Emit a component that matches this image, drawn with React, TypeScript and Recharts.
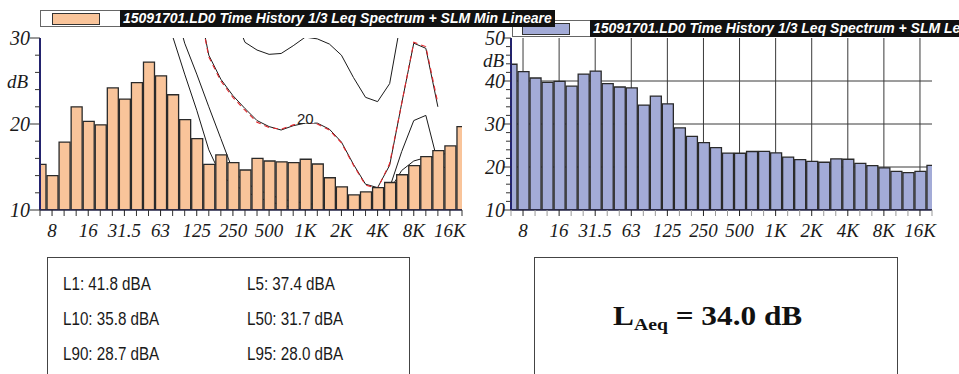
import React from 'react';
import { ComposedChart, Bar, Line, XAxis, YAxis, CartesianGrid, Label } from 'recharts';

// 1/3 octave bands, 6.3 Hz .. 20 kHz
const bands = ['6.3', '8', '10', '12.5', '16', '20', '25', '31.5', '40', '50', '63', '80', '100', '125', '160', '200', '250', '315', '400', '500', '630', '800', '1K', '1.25K', '1.6K', '2K', '2.5K', '3.15K', '4K', '5K', '6.3K', '8K', '10K', '12.5K', '16K', '20K'];
const bandLabels = ['8', '16', '31.5', '63', '125', '250', '500', '1K', '2K', '4K', '8K', '16K'];

// left panel: SLM Min spectrum (dB)
const minSpectrum = [15.3, 14.0, 17.9, 22.0, 20.3, 19.9, 24.2, 22.9, 24.8, 27.2, 25.6, 23.4, 20.5, 18.3, 15.3, 16.4, 15.5, 14.65, 16.0, 15.7, 15.6, 15.5, 15.9, 15.35, 13.75, 12.7, 11.75, 12.1, 12.6, 13.2, 14.1, 15.15, 16.2, 16.9, 17.45, 19.7];
// right panel: Leq spectrum (dB)
const leqSpectrum = [43.9, 42.2, 40.7, 39.7, 39.9, 38.8, 41.6, 42.3, 39.4, 38.6, 38.4, 34.4, 36.5, 34.7, 29.1, 27.1, 25.65, 24.5, 23.25, 23.2, 23.6, 23.65, 23.3, 22.3, 21.7, 21.3, 21.1, 21.9, 21.8, 20.85, 20.3, 19.8, 19.0, 18.7, 19.0, 20.4];

// contour curves on the left panel
const phon30 = [null, null, null, null, null, null, null, null, null, null, null, null, null, null, null, null, 33, 29.5, 28.6, 28.1, 28.2, 29.1, 30.1, 29.9, 29.3, 28.0, 25.4, 23.1, 22.6, 24.7, 32.5, null, null, null, null, null];
const phon20 = [null, null, null, null, null, null, null, null, null, null, null, null, null, 35, 28.0, 25.2, 23.3, 21.8, 20.4, 19.7, 19.3, 19.8, 20.1, 20.1, 19.4, 17.9, 15.3, 13.0, 12.6, 15.2, 22.4, 29.4, 28.8, 22.0, null, null];
const minLineare = [null, null, null, null, null, null, null, null, null, null, null, null, null, 35, 27.8, 25.0, 23.1, 21.6, 20.2, 19.6, 19.4, 19.9, 20.2, 20.0, 19.3, 17.8, 15.2, 12.9, 12.5, 15.4, 22.4, 29.5, 29.0, 22.4, null, null];
const phon10 = [null, null, null, null, null, null, null, null, null, null, 36, 30.2, 25.8, 21.6, 17.0, 14.0, 13.0, 12.2, 11.5, 11.0, 10.6, 10.3, 10.1, 10.0, 10.0, 10.0, 10.0, 10.2, 10.8, 12.6, 16.8, 20.4, 21.0, 15.5, 14.5, null];
const phon0 = [null, null, null, null, null, null, null, null, null, null, null, 34.5, 29.4, 25.8, 22.0, 18.3, 14.6, 13.2, 12.4, 11.8, 11.3, 11.0, 10.8, 10.6, 10.5, 10.5, 10.5, 10.7, 11.2, 12.3, 14.6, 15.7, 16.1, 16.2, 16.8, null];
const contourTag = '20';
const contourTagBand = '1K';

const yTicksLeft = [10, 12, 14, 16, 18, 20, 22, 24, 26, 28, 30];
const yLabelsLeft = [10, 20, 30];
const yTicksRight = [10, 12, 14, 16, 18, 20, 22, 24, 26, 28, 30, 32, 34, 36, 38, 40, 42, 44, 46, 48, 50];
const yLabelsRight = [10, 20, 30, 40, 50];
const gridRight = [20, 30, 40];

const legendLeft = '15091701.LD0 Time History 1/3 Leq Spectrum + SLM Min Lineare';
const legendRight = '15091701.LD0 Time History 1/3 Leq Spectrum + SLM Leq Lineare';
const stats = [
  ['L1: 41.8 dBA', 'L5: 37.4 dBA'],
  ['L10: 35.8 dBA', 'L50: 31.7 dBA'],
  ['L90: 28.7 dBA', 'L95: 28.0 dBA'],
];
const laeqValue = '34.0 dB';

const NAVY = '#23236e';
const SERIF = '"Liberation Serif", "Times New Roman", serif';
const SANS = '"Liberation Sans", Arial, sans-serif';

const bandIdx = bands.map((_, i) => i);
const gridX = bandIdx.filter((i) => bandLabels.includes(bands[i]));

const rows = bands.map((band, i) => ({
  idx: i,
  band,
  min: minSpectrum[i],
  leq: leqSpectrum[i],
  p30: phon30[i],
  p20: phon20[i],
  red: minLineare[i],
  p10: phon10[i],
  p0: phon0[i],
}));

const makeXTick = (minorColor: string) => (props: any) => {
  const { x, y, payload } = props;
  const band = bands[payload.value];
  const labelled = bandLabels.includes(band);
  return (
    <g>
      <line x1={x} x2={x} y1={y} y2={y + 6} stroke={labelled ? '#222' : minorColor} strokeWidth={1} />
      {labelled && (
        <text x={x} y={y + 27} textAnchor="middle" fontFamily={SERIF} fontStyle="italic" fontSize={19} fill="#1a1a1a">
          {band}
        </text>
      )}
    </g>
  );
};

const makeYTick = (labels: number[], majorLen: number, minorLen: number, gap: number) => (props: any) => {
  const { x, y, payload } = props;
  const major = labels.includes(payload.value);
  return (
    <g>
      <line x1={x - (major ? majorLen : minorLen)} x2={x} y1={y} y2={y} stroke="#333" strokeWidth={1} />
      {major && (
        <text x={x - gap} y={y} dy="0.35em" textAnchor="end" fontFamily={SERIF} fontStyle="italic" fontSize={20} fill="#1a1a1a">
          {payload.value}
        </text>
      )}
    </g>
  );
};

const dbLabel = (dx: number, dy: number) => (props: any) => {
  const vb = props.viewBox || {};
  return (
    <text x={(vb.x || 0) + dx} y={(vb.y || 0) + dy} fontFamily={SERIF} fontStyle="italic" fontSize={19} fill="#1a1a1a">
      dB
    </text>
  );
};

const tagIndex = bands.indexOf(contourTagBand);
const contourLabel = (p: any) => {
  if (p.index !== tagIndex) return null;
  const x = p.x ?? p.viewBox?.x;
  const y = p.y ?? p.viewBox?.y;
  return (
    <g>
      <rect x={x - 9} y={y - 12} width={18} height={12} fill="#fff" />
      <text x={x} y={y + 1} textAnchor="middle" fontFamily={SANS} fontSize={15} fill="#222">
        {contourTag}
      </text>
    </g>
  );
};

const LeftChart = () => (
  <ComposedChart width={480} height={250} data={rows} margin={{ top: 38, right: 18, bottom: 0, left: 0 }}>
    <XAxis type="number" dataKey="idx" domain={[0, bands.length - 1]} ticks={bandIdx} interval={0} allowDataOverflow
      height={40} tickSize={0} tickMargin={0} tickLine={false} axisLine={{ stroke: '#222244', strokeWidth: 1.5 }} tick={makeXTick('#333')} />
    <XAxis xAxisId="top" orientation="top" type="number" dataKey="idx" domain={[0, bands.length - 1]} height={0}
      tick={false} tickLine={false} axisLine={{ stroke: NAVY, strokeWidth: 2 }} />
    <YAxis type="number" domain={[10, 30]} ticks={yTicksLeft} interval={0} allowDataOverflow width={40}
      tickSize={0} tickMargin={0} tickLine={false} axisLine={{ stroke: NAVY, strokeWidth: 2 }} tick={makeYTick(yLabelsLeft, 10, 5, 10)}>
      <Label content={dbLabel(7, 50)} />
    </YAxis>
    <YAxis yAxisId="right" orientation="right" type="number" domain={[10, 30]} width={0}
      tick={false} tickLine={false} axisLine={{ stroke: NAVY, strokeWidth: 2 }} />
    <Line dataKey="p30" type="linear" stroke="#1a1a1a" strokeWidth={1} dot={false} activeDot={false} isAnimationActive={false} zIndex={250} />
    <Line dataKey="p10" type="linear" stroke="#1a1a1a" strokeWidth={1} dot={false} activeDot={false} isAnimationActive={false} zIndex={250} />
    <Line dataKey="p0" type="linear" stroke="#1a1a1a" strokeWidth={1} dot={false} activeDot={false} isAnimationActive={false} zIndex={250} />
    <Line dataKey="p20" type="linear" stroke="#1a1a1a" strokeWidth={1} dot={false} activeDot={false} isAnimationActive={false} zIndex={250} label={contourLabel} />
    <Line dataKey="red" type="linear" stroke="#e3262b" strokeWidth={1.1} strokeDasharray="5 4" dot={false} activeDot={false} isAnimationActive={false} zIndex={260} />
    <Bar dataKey="min" fill="#F9C49A" stroke="#2a2a2a" strokeWidth={1.3} barSize={11} isAnimationActive={false} />
  </ComposedChart>
);

const RightChart = () => (
  <ComposedChart width={489} height={250} data={rows} margin={{ top: 38, right: 27, bottom: 0, left: 0 }}>
    <CartesianGrid verticalValues={gridX} horizontalValues={gridRight} stroke="#3a3a3a" strokeWidth={1}
      horizontal={{ stroke: '#8a8a8a', strokeWidth: 1.4 }} />
    <XAxis type="number" dataKey="idx" domain={[0, bands.length - 1]} ticks={bandIdx} interval={0} allowDataOverflow
      height={40} tickSize={0} tickMargin={0} tickLine={false} axisLine={{ stroke: '#222244', strokeWidth: 1.5 }} tick={makeXTick('#999')} />
    <XAxis xAxisId="top" orientation="top" type="number" dataKey="idx" domain={[0, bands.length - 1]} height={0}
      tick={false} tickLine={false} axisLine={{ stroke: NAVY, strokeWidth: 2 }} />
    <YAxis type="number" domain={[10, 50]} ticks={yTicksRight} interval={0} allowDataOverflow width={41}
      tickSize={0} tickMargin={0} tickLine={false} axisLine={{ stroke: NAVY, strokeWidth: 2 }} tick={makeYTick(yLabelsRight, 7, 5, 6)}>
      <Label content={dbLabel(13, 29)} />
    </YAxis>
    <YAxis yAxisId="right" orientation="right" type="number" domain={[10, 50]} width={0}
      tick={false} tickLine={false} axisLine={{ stroke: NAVY, strokeWidth: 2 }} />
    <Bar dataKey="leq" fill="#A3ABD7" stroke="#2a2a2a" strokeWidth={1.3} barSize={11} isAnimationActive={false} />
  </ComposedChart>
);

const SeriesLegend = ({ left, top, width, swatchLeft, textLeft, color, title }: any) => (
  <div style={{ position: 'absolute', left, top, width, height: 17, background: '#fff', border: '1px solid #666', boxSizing: 'border-box' }}>
    <div style={{ position: 'absolute', left: swatchLeft, top: 2, width: 48, height: 12, background: color, border: '1px solid #333', boxSizing: 'border-box' }} />
    <div style={{ position: 'absolute', left: textLeft, top: -1, height: 17, lineHeight: '17px', background: '#111', color: '#fff', whiteSpace: 'nowrap',
      fontFamily: SANS, fontStyle: 'italic', fontWeight: 700, fontSize: 14, padding: '0 3px' }}>
      {title}
    </div>
  </div>
);

// the stats text is condensed in the original, the LAeq line slightly wide
const StatsAndLaeq = () => (
  <svg width={959} height={374} style={{ position: 'absolute', left: 0, top: 0 }}>
    <rect x={47.5} y={257.5} width={362} height={130} fill="none" stroke="#444" />
    {stats.map((row, r) =>
      row.map((s, c) => (
        <g key={`${r}-${c}`} transform={`translate(${c === 0 ? 63 : 247},${290 + r * 35}) scale(0.8,1)`}>
          <text x={0} y={0} fontFamily={SANS} fontSize={19} fill="#1a1a1a">
            {s}
          </text>
        </g>
      ))
    )}
    <rect x={534.5} y={257.5} width={363} height={130} fill="none" stroke="#444" />
    <g transform="translate(613,325) scale(1.16,1)">
      <text x={0} y={0} fontFamily={SERIF} fontWeight={700} fontSize={27} fill="#111">
        L<tspan fontSize={17} dy={5}>Aeq</tspan>
        <tspan dy={-5}>{` = ${laeqValue}`}</tspan>
      </text>
    </g>
  </svg>
);

export default function App() {
  return (
    <div style={{ position: 'absolute', left: 0, top: 0, width: 959, height: 374, overflow: 'hidden', background: '#fff' }}>
      <div style={{ position: 'absolute', left: 0, top: 0 }}>
        <LeftChart />
      </div>
      <div style={{ position: 'absolute', left: 470, top: 0 }}>
        <RightChart />
      </div>
      <SeriesLegend left={512} top={20} width={420} swatchLeft={9} textLeft={77} color="#A3ABD7" title={legendRight} />
      <SeriesLegend left={40} top={10} width={422} swatchLeft={11} textLeft={79} color="#F9C49A" title={legendLeft} />
      <StatsAndLaeq />
    </div>
  );
}
